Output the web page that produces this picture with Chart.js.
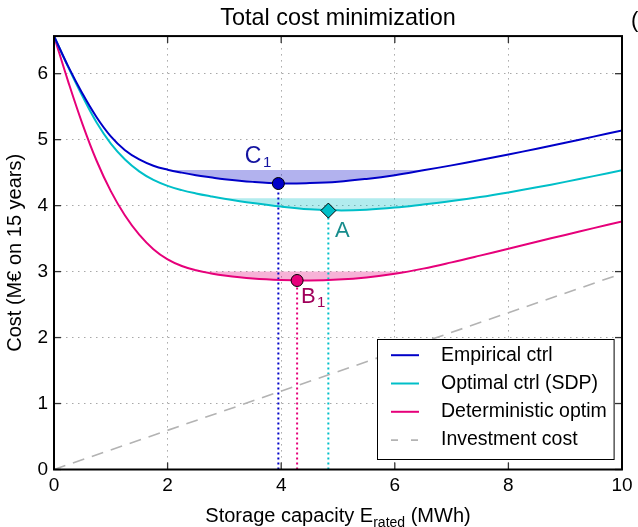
<!DOCTYPE html>
<html><head><meta charset="utf-8">
<style>html,body{margin:0;padding:0;background:#fff;overflow:hidden}#wrap{width:638px;height:527px}</style>
<script src="https://cdn.jsdelivr.net/npm/chart.js@4"></script>
</head><body><div id="wrap"><canvas id="c" width="638" height="527"></canvas></div>
<script>
// ---- data ----
const capacity = [0,0.25,0.5,0.75,1,1.25,1.5,1.75,2,2.25,2.5,2.75,3,3.5,4,4.5,5,5.5,6,6.5,7,7.5,8,8.5,9,9.5,10];
const empiricalCost = [6.57,6.11,5.70,5.34,5.05,4.84,4.70,4.605,4.545,4.50,4.462,4.43,4.40,4.36,4.337,4.342,4.362,4.405,4.462,4.535,4.61,4.69,4.775,4.863,4.953,5.046,5.14];
const optimalCost = [6.57,6.10,5.66,5.26,4.94,4.70,4.52,4.39,4.30,4.235,4.185,4.143,4.105,4.04,3.985,3.945,3.928,3.938,3.97,4.018,4.07,4.13,4.2,4.277,4.36,4.447,4.538];
const deterministicCost = [6.57,5.88,5.24,4.68,4.22,3.85,3.56,3.34,3.185,3.085,3.02,2.975,2.94,2.895,2.872,2.866,2.88,2.912,2.967,3.045,3.14,3.242,3.347,3.452,3.556,3.659,3.76];
const investmentCapacity = [0,10];
const investmentCost = [0,2.97];
const seriesNames = ['Empirical ctrl','Optimal ctrl (SDP)','Deterministic optim','Investment cost'];
// optimum points C1, A, B1
const optimumNames = ['C','A','B'];
const optimumSubs = ['1','','1'];
const optimumCapacity = [3.95,4.83,4.28];
const optimumCost = [4.335,3.925,2.865];
// near-optimal bands
const bandStart = [2.1,2.95,2.65];
const bandEnd = [6.55,7.33,6.2];
const bandLevel = [4.54,4.11,3.0];
// ticks
const xTicks = [0,2,4,6,8,10];
const yTicks = [0,1,2,3,4,5,6];
const yMax = 6.57;

// ---- styles ----
const FONT = "'Liberation Sans', Arial, Helvetica, sans-serif";
Chart.defaults.font.family = FONT;
const lineColors = ['#0000c8','#00bfc8','#e6007a'];
const bandColors = ['rgba(0,0,200,0.3)','rgba(0,191,200,0.3)','rgba(230,0,122,0.3)'];
const labelColors = ['#1414a0','#168c8c','#a0005a'];
const investColor = '#b3b3b3';
const labelOffsets = [[-33.5,-20.2],[6.6,26.8],[3.8,22.8]];
const labelSizes = [23,22,22];

const pts = (xs, ys) => xs.map((x,i) => ({x, y: ys[i]}));
const datasets = [];
[empiricalCost, optimalCost, deterministicCost].forEach((ys,i) => datasets.push({
  label: seriesNames[i], data: pts(capacity, ys), borderColor: lineColors[i], borderWidth: 2,
  pointRadius: 0, tension: 0.4, fill: false, order: 2
}));
datasets.push({label: seriesNames[3], data: pts(investmentCapacity, investmentCost), borderColor: investColor,
  borderWidth: 1.6, borderDash: [12,8], pointRadius: 0, fill: false, order: 3});
for (let i = 0; i < 3; i++) {
  datasets.push({label: 'band' + i, data: [{x: bandStart[i], y: bandLevel[i]}, {x: bandEnd[i], y: bandLevel[i]}],
    borderWidth: 0, borderColor: 'rgba(0,0,0,0)', pointRadius: 0, fill: {target: i},
    backgroundColor: bandColors[i], order: 10});
}
for (let i = 0; i < 3; i++) {
  datasets.push({label: 'drop' + i, data: [{x: optimumCapacity[i], y: 0}, {x: optimumCapacity[i], y: optimumCost[i]}],
    borderColor: lineColors[i], borderWidth: 2, borderDash: [2,3], pointRadius: 0, fill: false, order: 4});
}
for (let i = 0; i < 3; i++) {
  datasets.push({label: 'opt' + i, data: [{x: optimumCapacity[i], y: optimumCost[i]}], showLine: false,
    pointStyle: i === 1 ? 'rectRot' : 'circle', pointRadius: i === 1 ? 7.5 : 6,
    pointBackgroundColor: lineColors[i], pointBorderColor: '#000', pointBorderWidth: 1, order: 0});
}

const decor = {
  id: 'decor',
  afterDraw(chart) {
    const {ctx, chartArea: a, scales: {x, y}} = chart;
    ctx.save();
    const seg = (x1,y1,x2,y2) => { ctx.beginPath(); ctx.moveTo(x1,y1); ctx.lineTo(x2,y2); ctx.stroke(); };
    // inward ticks
    ctx.strokeStyle = '#333'; ctx.lineWidth = 1.3; ctx.setLineDash([]);
    xTicks.forEach(v => { const p = x.getPixelForValue(v); seg(p, a.bottom, p, a.bottom - 7); seg(p, a.top, p, a.top + 7); });
    yTicks.forEach(v => { const p = y.getPixelForValue(v); seg(a.left, p, a.left + 7, p); seg(a.right, p, a.right - 7, p); });
    // frame
    ctx.strokeStyle = '#000'; ctx.lineWidth = 2;
    ctx.strokeRect(a.left, a.top, a.right - a.left, a.bottom - a.top);
    // legend
    const bx = Math.round(a.right - 245.5) + 0.5, by = Math.round(a.bottom - 130.2) + 0.5;
    const bw = 236.6, bh = 120;
    ctx.fillStyle = '#fff'; ctx.fillRect(bx, by, bw, bh);
    ctx.strokeStyle = '#000'; ctx.lineWidth = 1; ctx.strokeRect(bx, by, bw, bh);
    ctx.font = '19.5px ' + FONT; ctx.textBaseline = 'middle'; ctx.textAlign = 'left';
    const cols = [lineColors[0], lineColors[1], lineColors[2], investColor];
    seriesNames.forEach((name, i) => {
      const ly = by + 15.7 + i * 28.3;
      ctx.strokeStyle = cols[i]; ctx.lineWidth = i === 3 ? 1.6 : 2;
      ctx.setLineDash(i === 3 ? [7,13] : []);
      seg(bx + 13.5, ly, bx + 41.5, ly);
      ctx.setLineDash([]);
      ctx.fillStyle = '#000'; ctx.fillText(name, bx + 63.5, ly);
    });
    // optimum labels
    ctx.textBaseline = 'alphabetic';
    optimumNames.forEach((n, i) => {
      const px = x.getPixelForValue(optimumCapacity[i]) + labelOffsets[i][0];
      const py = y.getPixelForValue(optimumCost[i]) + labelOffsets[i][1];
      ctx.fillStyle = labelColors[i];
      ctx.font = labelSizes[i] + 'px ' + FONT;
      ctx.fillText(n, px, py);
      const w = ctx.measureText(n).width;
      if (optimumSubs[i]) { ctx.font = '15px ' + FONT; ctx.fillText(optimumSubs[i], px + w + 1.5, py + 4); }
    });
    // x axis title with subscript
    ctx.fillStyle = '#000';
    const parts = [['Storage capacity E', 20, 0], ['rated', 14, 5], [' (MWh)', 20, 0]];
    let total = 0;
    parts.forEach(p => { ctx.font = p[1] + 'px ' + FONT; p.push(ctx.measureText(p[0]).width); total += p[3]; });
    let tx = (a.left + a.right) / 2 - total / 2;
    parts.forEach(p => { ctx.font = p[1] + 'px ' + FONT; ctx.fillText(p[0], tx, 521.5 + p[2]); tx += p[3]; });
    // clipped panel label at top right
    ctx.font = '22px ' + FONT; ctx.fillText('(c)', 631, 27);
    ctx.restore();
  }
};

new Chart(document.getElementById('c'), {
  type: 'line',
  data: {datasets},
  options: {
    responsive: false, animation: false, events: [],
    layout: {padding: {top: 0, right: 16, left: 0, bottom: 0}},
    plugins: {
      legend: {display: false}, tooltip: {enabled: false},
      title: {display: true, text: 'Total cost minimization', fullSize: false, color: '#000',
        font: {size: 23.4, weight: 'normal', family: FONT}, padding: {top: 5, bottom: 3}},
      filler: {propagate: false}
    },
    scales: {
      x: {type: 'linear', min: 0, max: 10,
        afterBuildTicks: s => { s.ticks = xTicks.map(v => ({value: v})); },
        afterFit: s => { s.height = 57.5; },
        ticks: {color: '#000', font: {size: 19}, padding: 5, maxRotation: 0, autoSkip: false},
        grid: {color: '#a8a8a8', lineWidth: 1, drawTicks: false},
        border: {display: false, dash: [1.5,4.5]}
      },
      y: {type: 'linear', min: 0, max: yMax,
        afterBuildTicks: s => { s.ticks = yTicks.map(v => ({value: v})); },
        afterFit: s => { s.width = 54; },
        ticks: {color: '#000', font: {size: 19}, padding: 6},
        grid: {color: '#a8a8a8', lineWidth: 1, drawTicks: false},
        border: {display: false, dash: [1.5,4.5]},
        title: {display: true, text: 'Cost (M€ on 15 years)', color: '#000', font: {size: 20}, padding: {top: 3, bottom: 0}}
      }
    }
  },
  plugins: [decor]
});
</script></body></html>
